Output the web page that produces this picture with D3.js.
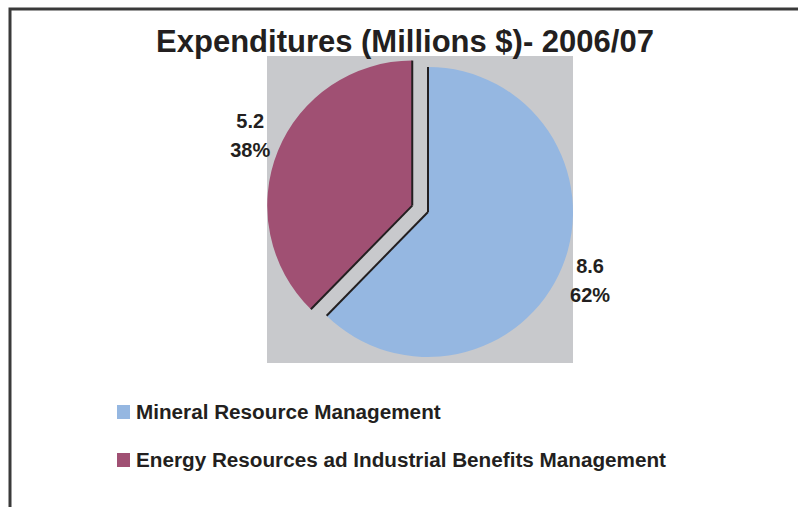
<!DOCTYPE html>
<html>
<head>
<meta charset="utf-8">
<script src="https://cdn.jsdelivr.net/npm/d3@7"></script>
<style>
  html, body { margin: 0; padding: 0; background: #ffffff; }
  svg { display: block; }
  text { font-family: "Liberation Sans", Arial, Helvetica, sans-serif; font-weight: bold; fill: #231f20; }
</style>
</head>
<body>
<script>
const categories = ["Mineral Resource Management", "Energy Resources ad Industrial Benefits Management"];
const values = [8.6, 5.2];
const percentLabels = ["62%", "38%"];
const colors = ["#95b7e1", "#a05073"];
const titleText = "Expenditures (Millions $)- 2006/07";

const W = 798, H = 507;
const svg = d3.select("body").append("svg").attr("width", W).attr("height", H);

// outer frame (only top and left edges visible)
svg.append("rect").attr("x", 10).attr("y", 9).attr("width", W + 20).attr("height", H + 20)
  .attr("fill", "none").attr("stroke", "#3a3a3a").attr("stroke-width", 3);

// plot area background
const plot = { x: 267, y: 56, w: 306, h: 307 };
svg.append("rect").attr("x", plot.x).attr("y", plot.y).attr("width", plot.w).attr("height", plot.h)
  .attr("fill", "#c8c9cc");

// title
svg.append("text").attr("x", 405).attr("y", 52).attr("text-anchor", "middle")
  .attr("font-size", 31).text(titleText);

const cx = 428, cy = 212, R = 145, explode = 17;
const pie = d3.pie().sort(null).value(d => d).startAngle(0).endAngle(2 * Math.PI);
const arcs = pie(values);
const arc = d3.arc().innerRadius(0).outerRadius(R);

arcs.forEach((a, i) => {
  const mid = (a.startAngle + a.endAngle) / 2;
  const off = i === 1 ? explode : 0;
  const ox = cx + off * Math.sin(mid), oy = cy - off * Math.cos(mid);
  const g = svg.append("g").attr("transform", `translate(${ox},${oy})`);
  g.append("path").attr("d", arc(a)).attr("fill", colors[i]);
  // dark radial edges
  [a.startAngle, a.endAngle].forEach(ang => {
    g.append("line").attr("x1", 0).attr("y1", 0)
      .attr("x2", R * Math.sin(ang)).attr("y2", -R * Math.cos(ang))
      .attr("stroke", "#231f20").attr("stroke-width", 2);
  });
  // labels
  const lx = 175 * Math.sin(mid), ly = -184 * Math.cos(mid);
  g.append("text").attr("x", lx).attr("y", ly - 8).attr("text-anchor", "middle")
    .attr("font-size", 20).text(d3.format(".1f")(values[i]));
  g.append("text").attr("x", lx).attr("y", ly + 21).attr("text-anchor", "middle")
    .attr("font-size", 20).text(percentLabels[i]);
});

// legend
const legendY = [405, 453];
categories.forEach((c, i) => {
  svg.append("rect").attr("x", 117).attr("y", legendY[i]).attr("width", 13).attr("height", 14)
    .attr("fill", colors[i]);
  svg.append("text").attr("x", 136).attr("y", legendY[i] + 14).attr("font-size", 20.7).text(c);
});
</script>
</body>
</html>
